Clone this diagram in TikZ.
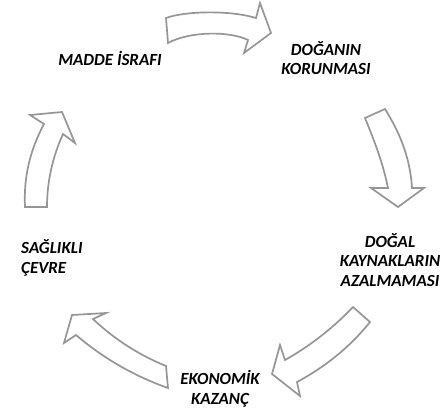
\documentclass[tikz,border=0pt]{standalone}
\usepackage{fontspec}
\setmainfont{Carlito}
\definecolor{arrowgray}{RGB}{150,150,150}
\tikzset{
  cyclearrow/.style={draw=arrowgray, line width=1.7pt, fill=white, line join=miter},
  lbl/.style={font=\fontsize{17}{19.5}\selectfont\bfseries\itshape, align=center, inner sep=0pt}
}
\begin{document}
\begin{tikzpicture}[x=1pt,y=-1pt]
\useasboundingbox (0,0) rectangle (446,410);
% top arrow
\draw[cyclearrow] (166,18) .. controls (185,11) and (230,10) .. (256,18) -- (260,3) -- (271,33) -- (244,53) -- (248,40) .. controls (230,31) and (190,31) .. (168,43) -- cycle;
% right arrow
\draw[cyclearrow] (365,118) .. controls (374,140) and (383,163) .. (388,188) -- (371,188) -- (398,207) -- (424,188) -- (412,188) .. controls (410,155) and (398,130) .. (385,109) -- cycle;
% bottom-right arrow
\draw[cyclearrow] (353,307) .. controls (333,328) and (310,346) .. (285,360) -- (280,345) -- (272,374) -- (300,396) -- (297,382) .. controls (325,367) and (350,347) .. (370,322) -- cycle;
% bottom-left arrow
\draw[cyclearrow] (166,366) .. controls (139,355) and (114,339) .. (93,319) -- (106,313) -- (72,315) -- (64,343) -- (76,335) .. controls (103,358) and (134,376) .. (168,388) -- cycle;
% left arrow
\draw[cyclearrow] (47,207) .. controls (47,182) and (52.5,157) .. (63,134) -- (75,143) -- (62,112) -- (30,115) -- (44,124) .. controls (30,150) and (23.5,177.5) .. (25,207) -- cycle;
% labels
\node[lbl] (madde) at (110,58) {MADDE İSRAFI};
\node[lbl] (doganin) at (326,58) {DOĞANIN\\KORUNMASI};
\node[lbl] (dogal) at (390,260) {DOĞAL\\KAYNAKLARIN\\AZALMAMASI};
\node[lbl] (ekonomik) at (220,389) {EKONOMİK\\KAZANÇ};
\node[lbl, align=left, anchor=west] (saglikli) at (21,258) {SAĞLIKLI\\ÇEVRE};
\end{tikzpicture}
\end{document}
